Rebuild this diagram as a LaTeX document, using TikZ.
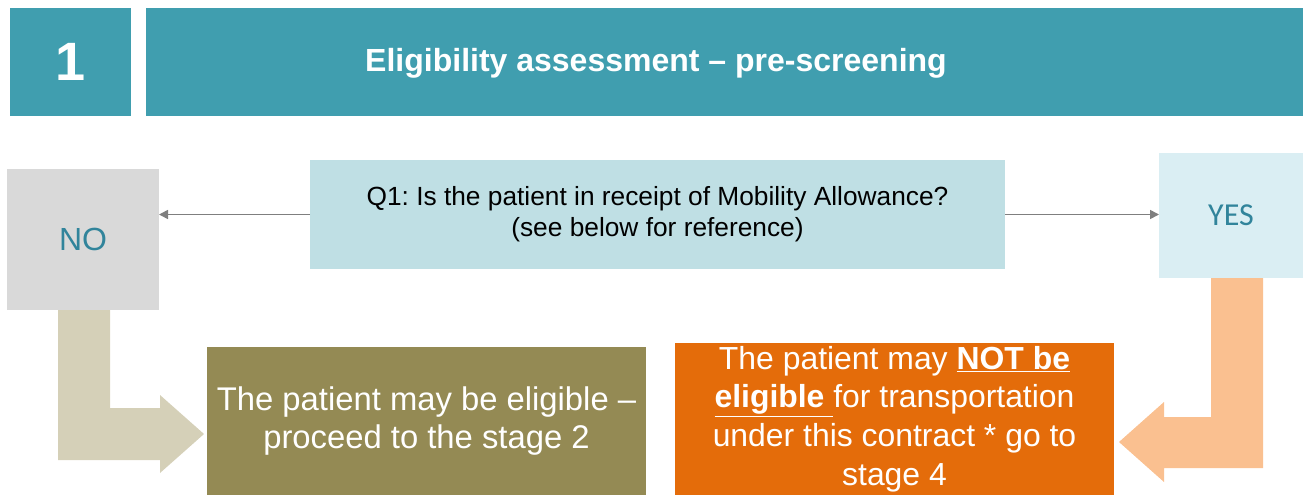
\documentclass[tikz,border=0pt]{standalone}
\usepackage{fontspec}
\setmainfont{Liberation Sans}
\newfontfamily\calfont{Carlito}
\frenchspacing
\usetikzlibrary{arrows.meta}
\definecolor{teal1}{HTML}{409EAF}
\definecolor{qblue}{HTML}{BFDFE4}
\definecolor{nogray}{HTML}{D9D9D9}
\definecolor{yesblue}{HTML}{DAEEF3}
\definecolor{olive1}{HTML}{948A54}
\definecolor{orange1}{HTML}{E46C0A}
\definecolor{lorange}{HTML}{FAC090}
\definecolor{beige}{HTML}{D5D0B8}
\definecolor{labteal}{HTML}{31849B}
\definecolor{conngray}{HTML}{7F7F7F}
\tikzset{
  box/.style={draw=none,inner sep=0pt,outer sep=0pt,align=center},
  conn/.style={draw=conngray,line width=1.6pt,-{Triangle[length=9pt,width=9pt]}},
}
\begin{document}
\begin{tikzpicture}[x=1pt,y=-1pt]
\useasboundingbox (0,0) rectangle (1303,495);
\node[box,fill=teal1,minimum width=121pt,minimum height=108pt,text=white,font=\fontsize{54}{60}\selectfont\bfseries] (h1) at (70.5,62) {1};
\node[box,fill=teal1,minimum width=1157pt,minimum height=108pt] (h2) at (724.5,62) {};
\node[box,text=white,font=\fontsize{32}{38}\selectfont\bfseries] (h2t) at (656,63) {Eligibility assessment -- pre-screening};
\node[box,fill=qblue,minimum width=695pt,minimum height=109pt,text=black,font=\fontsize{26.3}{31}\selectfont] (q) at (657.5,214.5) {Q1: Is the patient in receipt of Mobility Allowance?\\(see below for reference)};
\node[box,fill=nogray,minimum width=152pt,minimum height=141pt,text=labteal,font=\fontsize{32}{36}\selectfont] (no) at (83,239.5) {NO};
\node[box,fill=yesblue,minimum width=144pt,minimum height=125pt,text=labteal,font=\calfont\fontsize{32}{36}\selectfont] (yes) at (1231,215.5) {YES};
\node[box,fill=olive1,minimum width=439pt,minimum height=148pt,text=white,font=\fontsize{32.8}{38.5}\selectfont] (green) at (426.5,421) {The patient may be eligible --\\proceed to the stage 2};
\node[box,fill=orange1,minimum width=439pt,minimum height=152pt,text=white,font=\fontsize{31.9}{38.7}\selectfont] (orange) at (894.5,419) {The patient may \underline{\textbf{NOT be}}\\\underline{\textbf{eligible }}for transportation\\under this contract * go to\\stage 4};
\draw[conn] (q.west) -- (no.east |- q.west);
\draw[conn] (q.east) -- (yes.west |- q.east);
\fill[beige] (58,310) -- (110,310) -- (110,408) -- (160,408) -- (160,395) -- (204,434) -- (160,473) -- (160,460) -- (58,460) -- cycle;
\fill[lorange] (1211,278) -- (1263,278) -- (1263,468) -- (1164,468) -- (1164,482) -- (1119,442) -- (1164,402) -- (1164,417) -- (1211,417) -- cycle;
\end{tikzpicture}
\end{document}
